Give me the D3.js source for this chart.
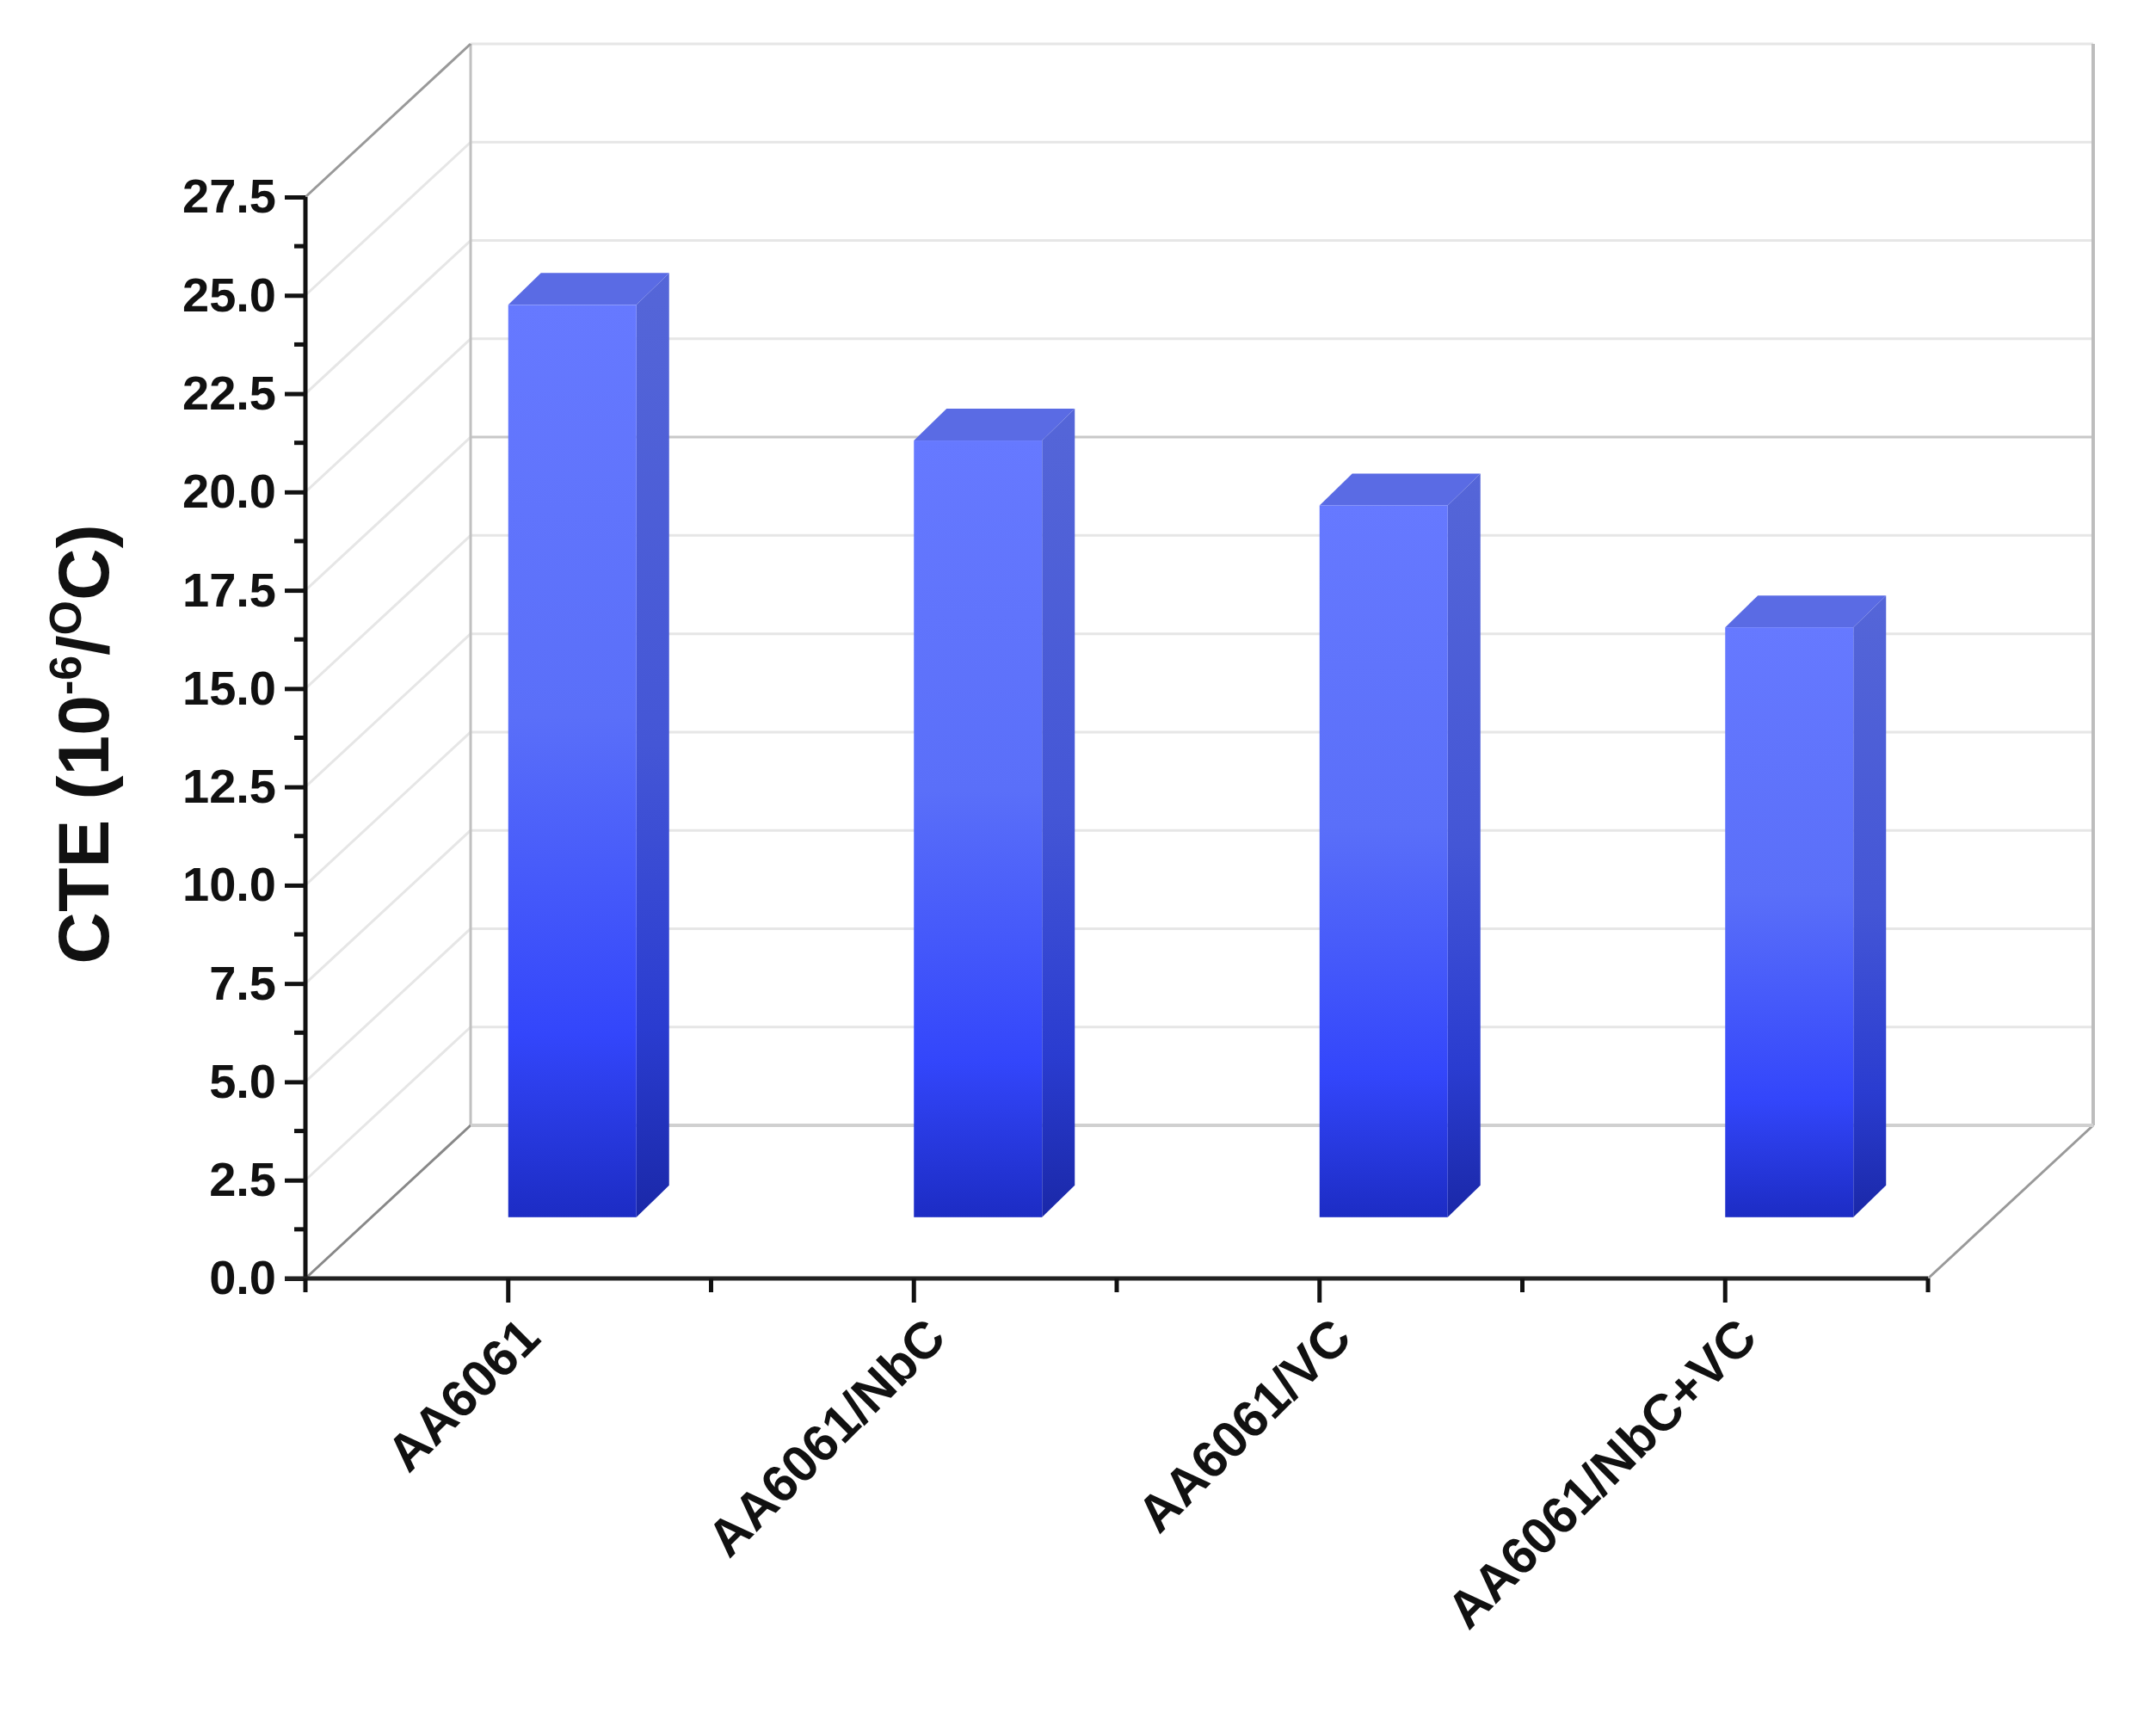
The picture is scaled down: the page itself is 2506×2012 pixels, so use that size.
<!DOCTYPE html>
<html><head><meta charset="utf-8">
<script src="https://cdn.jsdelivr.net/npm/d3@7"></script>
<style>body{margin:0;background:#fff}</style>
</head><body>
<svg id="c" width="2506" height="2012"></svg>
<script>
const categories = ["AA6061","AA6061/NbC","AA6061/VC","AA6061/NbC+VC"];
const values = [23.2, 19.75, 18.1, 15.0];
const yTicks = [0,2.5,5,7.5,10,12.5,15,17.5,20,22.5,25,27.5];

const svg = d3.select("#c");
const X0=355, X1=2241, DX=192, DY=-178;
const y = d3.scaleLinear().domain([0,27.5]).range([1486,229]);
const x = d3.scaleBand().domain(categories).range([X0,X1]);
const FONT="Liberation Sans, Arial";

const defs = svg.append("defs");
const g1 = defs.append("linearGradient").attr("id","front").attr("x1",0).attr("y1",0).attr("x2",0).attr("y2",1);
[[0,"#6679ff"],[0.45,"#5a6ff9"],[0.8,"#3346fb"],[1,"#1c2cc4"]].forEach(s=>g1.append("stop").attr("offset",s[0]).attr("stop-color",s[1]));
const g2 = defs.append("linearGradient").attr("id","side").attr("x1",0).attr("y1",0).attr("x2",0).attr("y2",1);
[[0,"#5566d8"],[0.5,"#4456d6"],[0.8,"#2a3cd0"],[1,"#1a28a8"]].forEach(s=>g2.append("stop").attr("offset",s[0]).attr("stop-color",s[1]));

yTicks.forEach(v=>{
  svg.append("line").attr("x1",X0+DX).attr("x2",X1+DX).attr("y1",y(v)+DY).attr("y2",y(v)+DY)
    .attr("stroke", v===17.5?"#c8c8c8":"#e6e6e6").attr("stroke-width",3);
  if(v>0 && v<27.5) svg.append("line").attr("x1",X0).attr("y1",y(v)).attr("x2",X0+DX).attr("y2",y(v)+DY)
    .attr("stroke","#e6e6e6").attr("stroke-width",3);
});
svg.append("line").attr("x1",X0+DX).attr("x2",X0+DX).attr("y1",y(0)+DY).attr("y2",y(27.5)+DY).attr("stroke","#c0c0c0").attr("stroke-width",3);
svg.append("line").attr("x1",X1+DX).attr("x2",X1+DX).attr("y1",y(0)+DY).attr("y2",y(27.5)+DY).attr("stroke","#bdbdbd").attr("stroke-width",4);
svg.append("line").attr("x1",X0).attr("y1",y(27.5)).attr("x2",X0+DX).attr("y2",y(27.5)+DY).attr("stroke","#999").attr("stroke-width",3);
svg.append("line").attr("x1",X0).attr("y1",y(0)).attr("x2",X0+DX).attr("y2",y(0)+DY).attr("stroke","#888").attr("stroke-width",3);
svg.append("line").attr("x1",X1).attr("y1",y(0)).attr("x2",X1+DX).attr("y2",y(0)+DY).attr("stroke","#999").attr("stroke-width",3);
svg.append("line").attr("x1",X0+DX).attr("x2",X1+DX).attr("y1",y(0)+DY).attr("y2",y(0)+DY).attr("stroke","#d0d0d0").attr("stroke-width",4);

const fdy=DY*0.4, bw=x.bandwidth()*0.316, ddx=38, ddy=-37;
categories.forEach((c,i)=>{
  const l = x(c)+x.bandwidth()/2, r=l+bw;
  const b = y(0)+fdy, t = y(values[i])+fdy;
  const g = svg.append("g");
  g.append("path").attr("d",`M${r},${b}L${r+ddx},${b+ddy}L${r+ddx},${t+ddy}L${r},${t}Z`).attr("fill","url(#side)");
  g.append("path").attr("d",`M${l},${t}L${l+ddx},${t+ddy}L${r+ddx},${t+ddy}L${r},${t}Z`).attr("fill","#5a6be4");
  g.append("rect").attr("x",l).attr("y",t).attr("width",bw).attr("height",b-t).attr("fill","url(#front)");
});

const ya = svg.append("g").attr("transform",`translate(${X0},0)`)
  .call(d3.axisLeft(y).tickValues(yTicks).tickFormat(d3.format(".1f")).tickSize(24).tickPadding(10));
ya.select(".domain").attr("stroke","#111").attr("stroke-width",5).attr("d",`M0,${y(0)}V${y(27.5)}`);
ya.selectAll(".tick line").attr("stroke","#111").attr("stroke-width",5);
ya.selectAll("text").attr("font-family",FONT).attr("font-weight","bold").attr("font-size",56).attr("fill","#111");
yTicks.slice(0,-1).forEach(v=>{
  svg.append("line").attr("x1",X0-13).attr("x2",X0).attr("y1",y(v+1.25)).attr("y2",y(v+1.25)).attr("stroke","#111").attr("stroke-width",5);
});

svg.append("line").attr("x1",X0-24).attr("x2",X1).attr("y1",y(0)).attr("y2",y(0)).attr("stroke","#222").attr("stroke-width",5);
categories.forEach(c=>{
  const cx=x(c)+x.bandwidth()/2;
  svg.append("line").attr("x1",cx).attr("x2",cx).attr("y1",y(0)).attr("y2",y(0)+28).attr("stroke","#111").attr("stroke-width",5);
  svg.append("line").attr("x1",x(c)).attr("x2",x(c)).attr("y1",y(0)).attr("y2",y(0)+16).attr("stroke","#111").attr("stroke-width",5);
  svg.append("text").attr("transform",`translate(${cx+40},${y(0)+72}) rotate(-45)`)
    .attr("text-anchor","end").attr("font-family",FONT).attr("font-weight","bold")
    .attr("font-size",60).attr("fill","#111").text(c);
});
svg.append("line").attr("x1",X1).attr("x2",X1).attr("y1",y(0)).attr("y2",y(0)+16).attr("stroke","#111").attr("stroke-width",5);

const tt = svg.append("text").attr("transform",`translate(126,865) rotate(-90)`)
  .attr("text-anchor","middle").attr("font-family",FONT).attr("font-weight","bold")
  .attr("font-size",84).attr("fill","#111");
tt.append("tspan").text("CTE (10");
tt.append("tspan").attr("font-size",52).attr("dy",-32).text("-6");
tt.append("tspan").attr("dy",32).text("/");
tt.append("tspan").attr("font-size",52).attr("dy",-32).text("O");
tt.append("tspan").attr("dy",32).text("C)");
</script>
</body></html>
